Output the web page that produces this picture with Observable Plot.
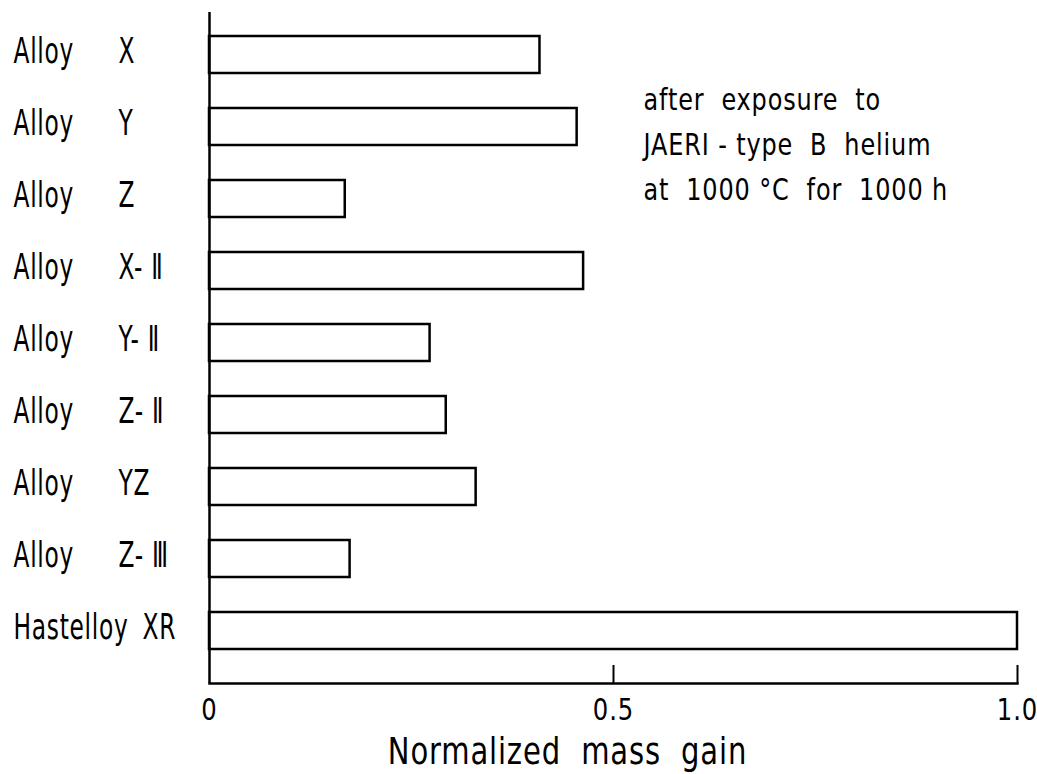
<!DOCTYPE html>
<html>
<head>
<meta charset="utf-8">
<script src="https://cdn.jsdelivr.net/npm/d3@7"></script>
<script src="https://cdn.jsdelivr.net/npm/@observablehq/plot@0.6"></script>
<style>
  html, body { margin: 0; padding: 0; background: #fff; }
  #chart svg { display: block; }
</style>
</head>
<body>
<div id="chart"></div>
<script>
// ---- data ----
const categories = ["Alloy X", "Alloy Y", "Alloy Z", "Alloy X-Ⅱ", "Alloy Y-Ⅱ", "Alloy Z-Ⅱ", "Alloy YZ", "Alloy Z-Ⅲ", "Hastelloy XR"];
const labelPrefix = ["Alloy", "Alloy", "Alloy", "Alloy", "Alloy", "Alloy", "Alloy", "Alloy", "Hastelloy"];
const labelSuffix = ["X", "Y", "Z", "X- Ⅱ", "Y- Ⅱ", "Z- Ⅱ", "YZ", "Z- Ⅲ", "XR"];
const massGain = [0.409, 0.455, 0.168, 0.463, 0.273, 0.293, 0.330, 0.174, 1.0];
const xTicks = [0, 0.5, 1.0];
const xTickLabels = ["0", "0.5", "1.0"];
const xLabel = "Normalized  mass  gain";
const note = "after  exposure  to\nJAERI - type  B  helium\nat  1000 °C  for  1000 h";

const rows = categories.map((c, i) => ({
  name: c, prefix: labelPrefix[i], suffix: labelSuffix[i], value: massGain[i]
}));
const tickRows = xTicks.map((v, i) => ({v, label: xTickLabels[i]}));

const W = 1037, H = 774;
const mTop = 12, mBottom = 91, mLeft = 209, mRight = 20;
const frameH = H - mTop - mBottom;
const FONT = "'DejaVu Sans Condensed', 'DejaVu Sans', sans-serif";

const chart = Plot.plot({
  width: W,
  height: H,
  marginTop: mTop,
  marginBottom: mBottom,
  marginLeft: mLeft,
  marginRight: mRight,
  style: {fontFamily: FONT, color: "#000", background: "#fff", letterSpacing: "1px"},
  x: {domain: [0, 1], axis: null},
  y: {domain: categories, paddingInner: 0.49, paddingOuter: 0.31, insetBottom: 11, axis: null},
  marks: [
    Plot.rectX(rows, {y: "name", x1: 0, x2: "value", fill: "#fff", stroke: "#000", strokeWidth: 2.5}),
    Plot.ruleX([0], {stroke: "#000", strokeWidth: 2.5}),
    Plot.frame({anchor: "bottom", stroke: "#000", strokeWidth: 2.5}),
    Plot.ruleX(xTicks.filter(d => d > 0), {stroke: "#000", strokeWidth: 2, insetTop: frameH - 18}),
    Plot.text(tickRows, {x: "v", text: "label", frameAnchor: "bottom", lineAnchor: "top", dy: 15, fontSize: 30, fill: "#000"}),
    Plot.text([xLabel], {frameAnchor: "bottom", lineAnchor: "bottom", dy: 80, dx: -46, fontSize: 38, fill: "#000"}),
    Plot.text(rows, {y: "name", text: "prefix", frameAnchor: "left", textAnchor: "start", dx: -196, dy: -4, fontSize: 36, fill: "#000"}),
    Plot.text(rows.filter(d => d.prefix === "Alloy"), {y: "name", text: "suffix", frameAnchor: "left", textAnchor: "start", dx: -91, dy: -4, fontSize: 36, fill: "#000"}),
    Plot.text(rows.filter(d => d.prefix !== "Alloy"), {y: "name", text: "suffix", frameAnchor: "left", textAnchor: "start", dx: -67, dy: -4, fontSize: 36, fill: "#000"}),
    Plot.text([note], {frameAnchor: "top-left", textAnchor: "start", lineAnchor: "top", dx: 434, dy: 66, fontSize: 31, lineHeight: 1.45, fill: "#000"})
  ]
});

// narrow the lettering horizontally (the reference uses a condensed plotter font)
const squeezeBySize = {"38": 0.85, "36": 0.72, "31": 0.86, "30": 0.9};
chart.querySelectorAll("g[aria-label='text']").forEach(g => {
  const s = squeezeBySize[g.getAttribute("font-size")] ?? 1;
  if (s === 1) return;
  g.querySelectorAll("text").forEach(t => {
    const tr = t.getAttribute("transform") || "";
    t.setAttribute("transform", `${tr} scale(${s},1)`);
  });
});
chart.querySelectorAll("text").forEach(t => t.setAttribute("xml:space", "preserve"));
chart.style.whiteSpace = "pre";
document.getElementById("chart").appendChild(chart);
</script>
</body>
</html>
